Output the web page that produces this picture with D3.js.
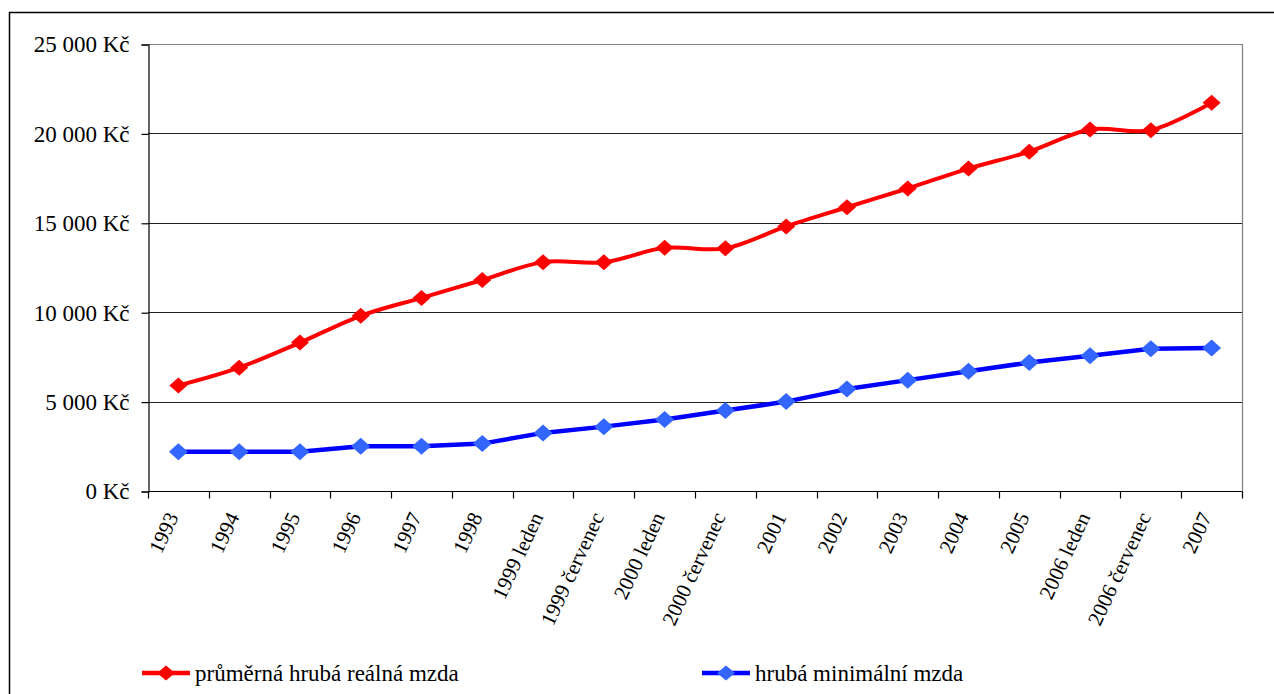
<!DOCTYPE html>
<html>
<head>
<meta charset="utf-8">
<script src="https://cdn.jsdelivr.net/npm/d3@7"></script>
<style>
  html, body { margin: 0; padding: 0; background: #fff; }
  svg { display: block; }
</style>
</head>
<body>
<svg id="chart" width="1274" height="694"></svg>
<script>
// Období (kategorie osy x)
const categories = [
  "1993", "1994", "1995", "1996", "1997", "1998",
  "1999 leden", "1999 červenec", "2000 leden", "2000 červenec",
  "2001", "2002", "2003", "2004", "2005",
  "2006 leden", "2006 červenec", "2007"
];

// Průměrná hrubá reálná mzda (Kč)
const avgWage = [
  5900, 6900, 8300, 9800, 10800, 11800,
  12800, 12790, 13600, 13570,
  14800, 15870, 16920, 18030, 18980,
  20220, 20180, 21720
];

// Hrubá minimální mzda (Kč)
const minWage = [
  2200, 2200, 2200, 2500, 2500, 2650,
  3250, 3600, 4000, 4500,
  5000, 5700, 6200, 6700, 7185,
  7570, 7955, 8000
];

const yTicks = [0, 5000, 10000, 15000, 20000, 25000];

const seriesNames = ["průměrná hrubá reálná mzda", "hrubá minimální mzda"];

const serif = "Liberation Serif";

const svg = d3.select("#chart");

// Vnější rámeček grafu
svg.append("rect")
  .attr("x", 9.5).attr("y", 12.5)
  .attr("width", 1300).attr("height", 700)
  .attr("fill", "none").attr("stroke", "#000").attr("stroke-width", 1.5);

const plot = { left: 148, right: 1242, top: 44, bottom: 491 };

const x = d3.scaleBand().domain(categories).range([plot.left, plot.right]).padding(0);
const y = d3.scaleLinear().domain([0, 25000]).range([plot.bottom, plot.top]);
const cx = d => x(d) + x.bandwidth() / 2;

// Vodorovné mřížky
svg.append("g")
  .selectAll("line")
  .data(yTicks.filter(v => v > 0 && v < 25000))
  .join("line")
  .attr("x1", plot.left).attr("x2", plot.right)
  .attr("y1", d => Math.round(y(d)) + 0.5).attr("y2", d => Math.round(y(d)) + 0.5)
  .attr("stroke", "#222").attr("stroke-width", 1);

// Rámeček plochy (horní a pravá strana)
svg.append("path")
  .attr("d", `M${plot.left},${Math.round(y(25000)) + 0.5}H${plot.right + 0.5}V${plot.bottom}`)
  .attr("fill", "none").attr("stroke", "#808080").attr("stroke-width", 1.2);

// Osa y
const yAxis = d3.axisLeft(y)
  .tickValues(yTicks)
  .tickSize(7)
  .tickPadding(12)
  .tickFormat(d => d3.format(",")(d).replace(/,/g, " ") + " Kč");

const gy = svg.append("g")
  .attr("transform", `translate(${plot.left + 0.5},0.5)`)
  .call(yAxis);
gy.select(".domain").attr("stroke", "#000").attr("stroke-width", 1.2);
gy.selectAll(".tick line").attr("stroke", "#000").attr("stroke-width", 1.2);
gy.selectAll(".tick text")
  .style("font-family", serif)
  .style("font-size", "23px")
  .attr("fill", "#000");

// Osa x
const gx = svg.append("g")
  .attr("transform", `translate(0,${plot.bottom + 0.5})`);
gx.append("line")
  .attr("x1", plot.left).attr("x2", plot.right + 0.5)
  .attr("stroke", "#000").attr("stroke-width", 1.2);
const boundaries = categories.map(c => x(c)).concat([plot.right]);
gx.selectAll("line.tick")
  .data(boundaries)
  .join("line")
  .attr("class", "tick")
  .attr("x1", d => Math.round(d) + 0.5).attr("x2", d => Math.round(d) + 0.5)
  .attr("y1", 0).attr("y2", 7)
  .attr("stroke", "#000").attr("stroke-width", 1.2);
gx.selectAll("text")
  .data(categories)
  .join("text")
  .attr("text-anchor", "end")
  .style("font-family", serif)
  .style("font-size", "21px")
  .attr("fill", "#000")
  .attr("transform", d => `translate(${cx(d) - 6},${22}) rotate(-65)`)
  .attr("dy", "0.35em")
  .text(d => d);

// Tvar kosočtverce pro značky
const diamond = (w, h) => `M0,${-h}L${w},0L0,${h}L${-w},0Z`;

// Řada 1 – průměrná mzda (vyhlazená)
const lineAvg = d3.line()
  .x((d, i) => cx(categories[i]))
  .y(d => y(d))
  .curve(d3.curveCatmullRom.alpha(0));

svg.append("path")
  .datum(avgWage)
  .attr("d", lineAvg)
  .attr("fill", "none")
  .attr("stroke", "#FF0000")
  .attr("stroke-width", 4)
  .attr("stroke-linejoin", "round");

svg.append("g")
  .selectAll("path")
  .data(avgWage)
  .join("path")
  .attr("d", diamond(9, 8))
  .attr("transform", (d, i) => `translate(${cx(categories[i])},${y(d)})`)
  .attr("fill", "#FF0000");

// Řada 2 – minimální mzda
const lineMin = d3.line()
  .x((d, i) => cx(categories[i]))
  .y(d => y(d));

svg.append("path")
  .datum(minWage)
  .attr("d", lineMin)
  .attr("fill", "none")
  .attr("stroke", "#0000FF")
  .attr("stroke-width", 4.5)
  .attr("stroke-linejoin", "round");

svg.append("g")
  .selectAll("path")
  .data(minWage)
  .join("path")
  .attr("d", diamond(9.5, 8.5))
  .attr("transform", (d, i) => `translate(${cx(categories[i])},${y(d)})`)
  .attr("fill", "#3366FF");

// Legenda
const legendItems = [
  { name: seriesNames[0], line: "#FF0000", marker: "#FF0000", x: 142 },
  { name: seriesNames[1], line: "#0000FF", marker: "#3366FF", x: 702 }
];
const legendY = 673;
const lg = svg.append("g");
legendItems.forEach(it => {
  lg.append("line")
    .attr("x1", it.x).attr("x2", it.x + 48)
    .attr("y1", legendY).attr("y2", legendY)
    .attr("stroke", it.line).attr("stroke-width", 4.5);
  lg.append("path")
    .attr("d", diamond(9, 7.5))
    .attr("transform", `translate(${it.x + 24},${legendY})`)
    .attr("fill", it.marker);
  lg.append("text")
    .attr("x", it.x + 53).attr("y", legendY)
    .attr("dy", "0.35em")
    .style("font-family", serif)
    .style("font-size", "23px")
    .attr("fill", "#000")
    .text(it.name);
});
</script>
</body>
</html>
